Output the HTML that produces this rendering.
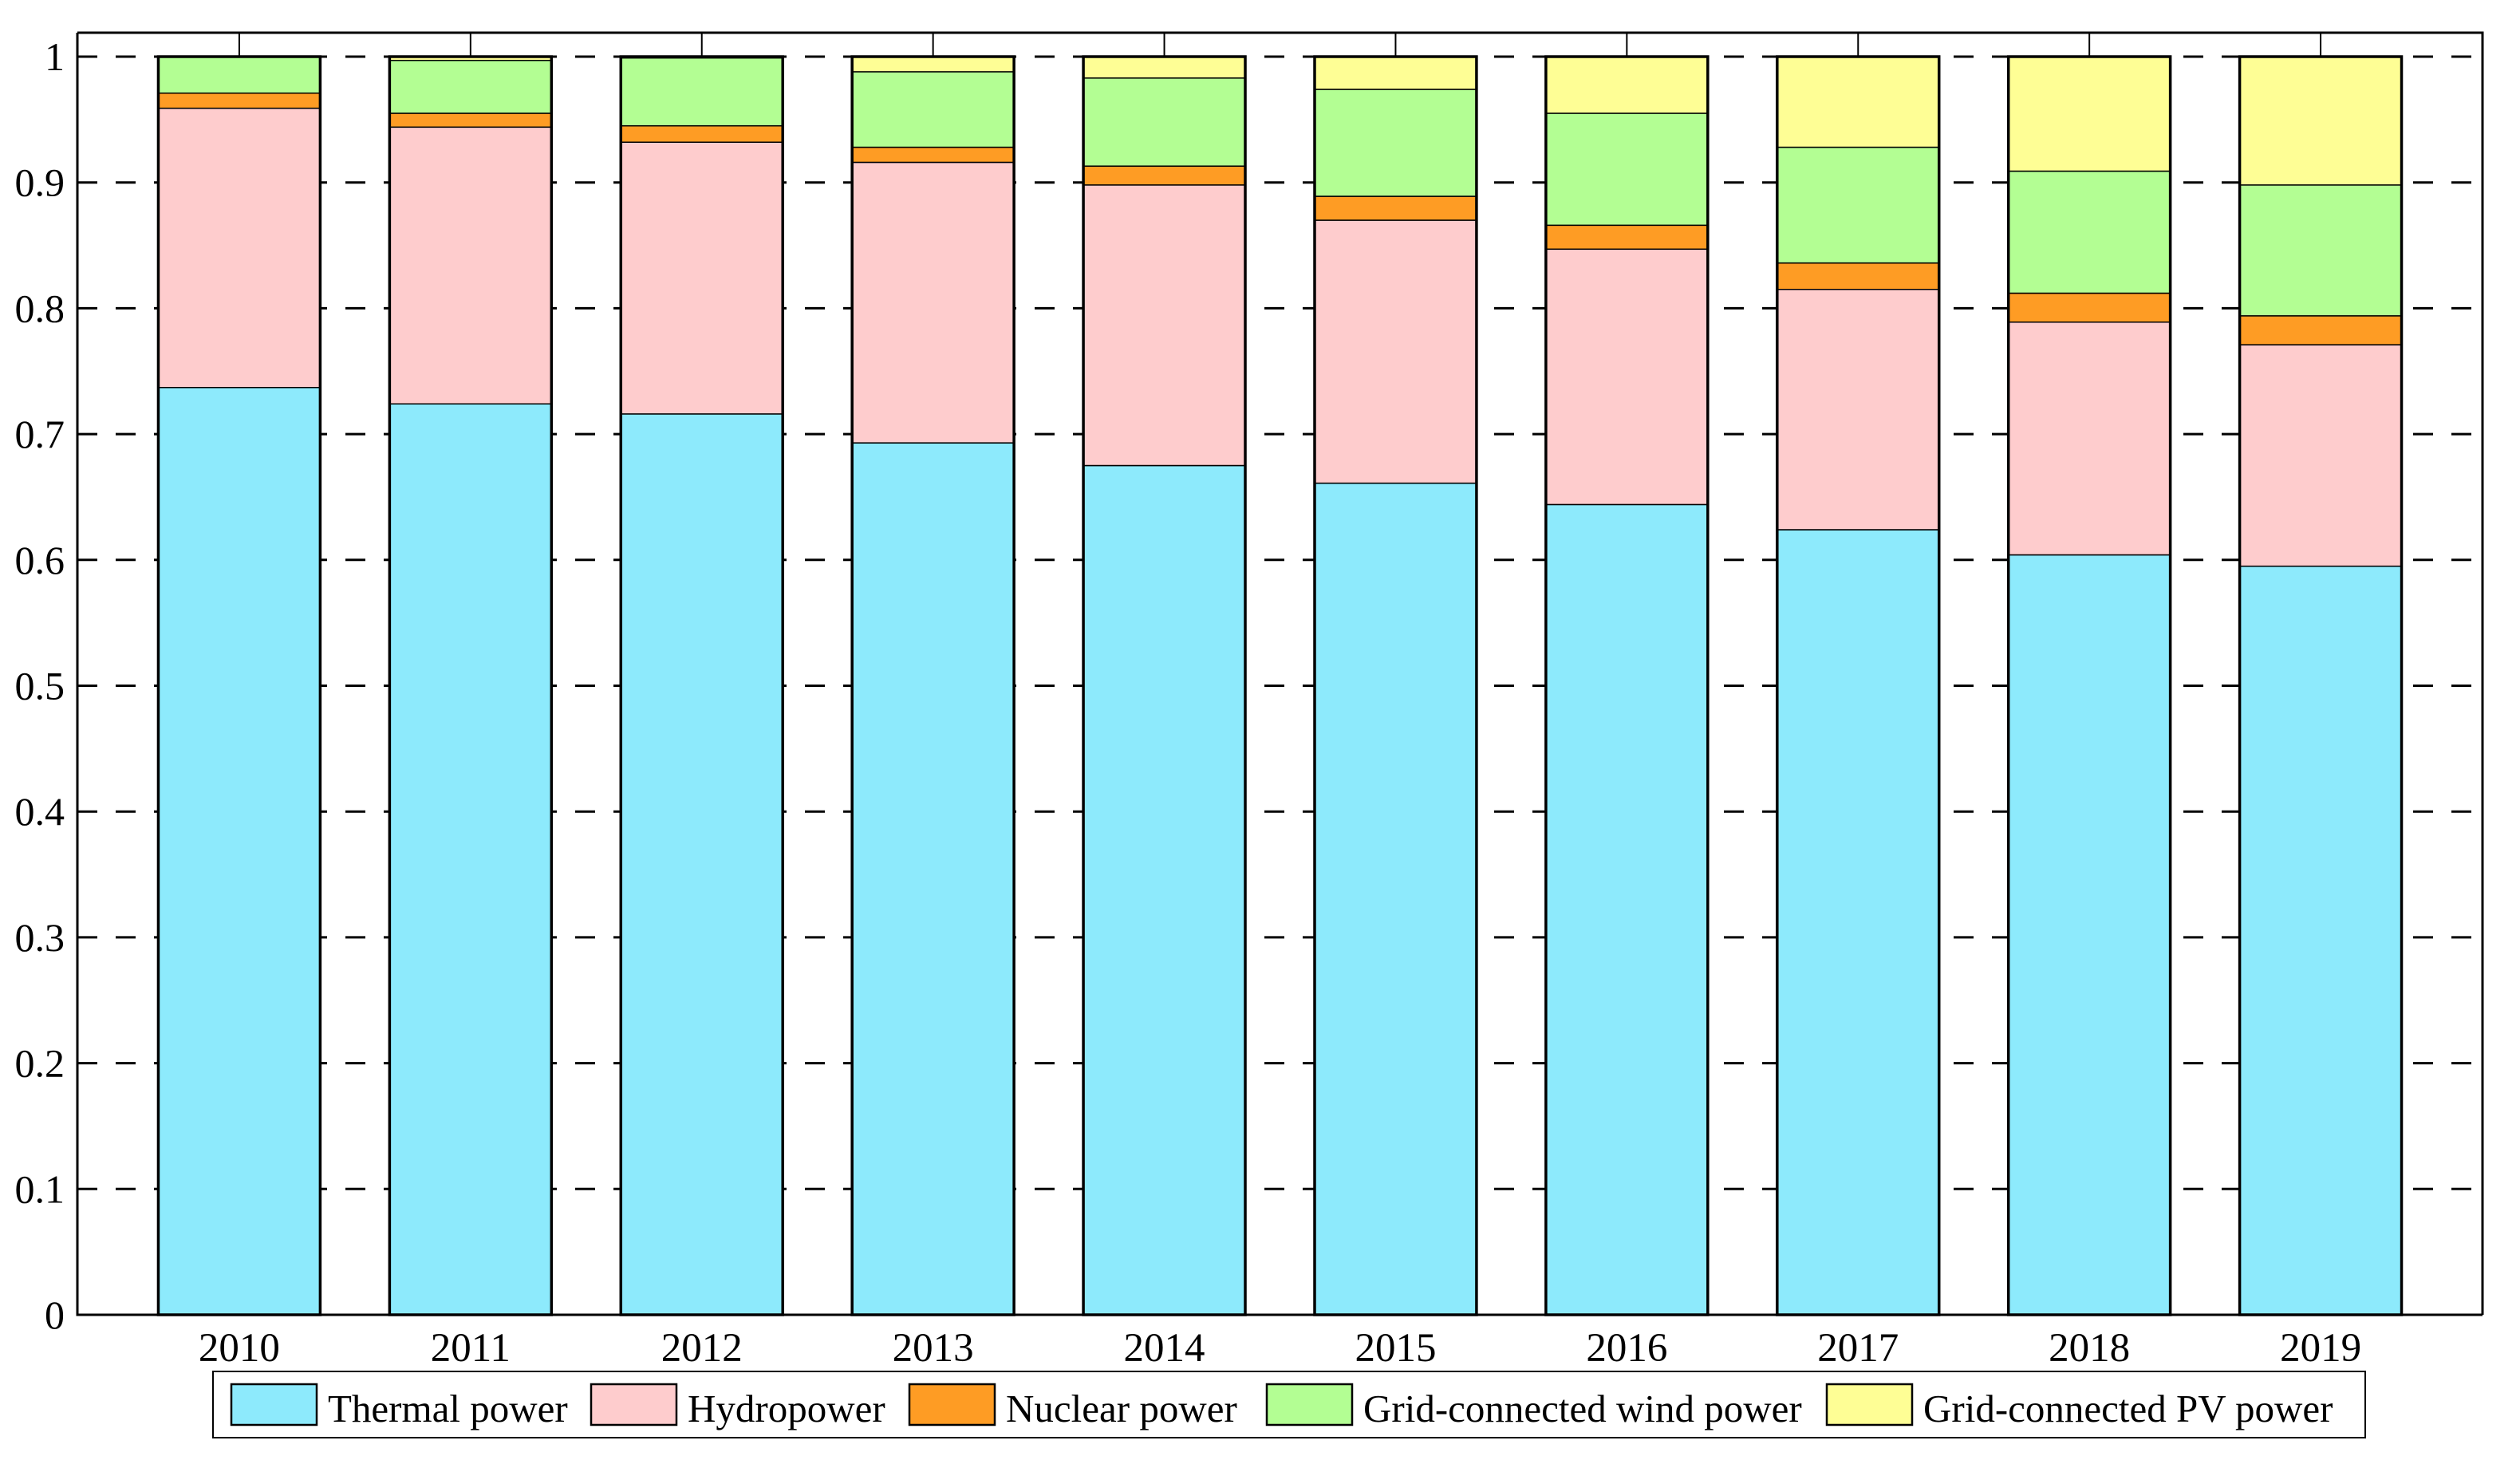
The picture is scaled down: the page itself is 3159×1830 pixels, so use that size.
<!DOCTYPE html>
<html><head><meta charset="utf-8"><style>
html,body{margin:0;padding:0;background:#fff;}
svg{display:block;font-family:"Liberation Serif",serif;}
</style></head><body>
<svg id="chart" width="3159" height="1830" viewBox="0 0 3159 1830" xmlns="http://www.w3.org/2000/svg"></svg>
<script>
const years = ["2010","2011","2012","2013","2014","2015","2016","2017","2018","2019"];
const thermal = [0.737,0.724,0.716,0.693,0.675,0.661,0.644,0.624,0.604,0.595];
const hydro   = [0.222,0.220,0.216,0.223,0.223,0.209,0.203,0.191,0.185,0.176];
const nuclear = [0.012,0.011,0.013,0.012,0.015,0.019,0.019,0.021,0.023,0.023];
const wind    = [0.029,0.042,0.054,0.060,0.070,0.085,0.089,0.092,0.097,0.104];
const pv      = [0.000,0.003,0.001,0.012,0.017,0.026,0.045,0.072,0.091,0.102];
const yTicks = ["0","0.1","0.2","0.3","0.4","0.5","0.6","0.7","0.8","0.9","1"];
const seriesNames = ["Thermal power","Hydropower","Nuclear power","Grid-connected wind power","Grid-connected PV power"];
const seriesData = [thermal,hydro,nuclear,wind,pv];
const colors = ["#8deafc","#fecccd","#fe9c24","#b3fe93","#fefe95"];

const NS="http://www.w3.org/2000/svg";
const svg=document.getElementById('chart');
const L=97,R=3112,T=41,Y0=1648,Y1=71;
const xmin=0.3,xmax=10.7,barW=0.7;
function xs(i){return L+(i+1-xmin)/(xmax-xmin)*(R-L);}
function ys(v){return Y0-v*(Y0-Y1);}
function el(tag,attrs,parent){const e=document.createElementNS(NS,tag);for(const k in attrs)e.setAttribute(k,attrs[k]);(parent||svg).appendChild(e);return e;}

yTicks.forEach((t,i)=>{
  const v=parseFloat(t);const y=ys(v);
  if(v>0){
    const g=el('line',{x1:L,x2:R,y1:y,y2:y,stroke:'#000','stroke-width':3,'stroke-dasharray':'25 23'});
    
    
  }
  const tx=el('text',{x:L-16,y:y+17,'text-anchor':'end','font-size':50,fill:'#000'});
  tx.textContent=t;
  
  
});

years.forEach((yr,i)=>{
  const cx=xs(i);const x0=cx-barW/2*(xs(1)-xs(0));const w=barW*(xs(1)-xs(0));
  let cum=0;
  seriesData.forEach((s,k)=>{
    const v=s[i];const yTop=ys(cum+v),yBot=ys(cum);
    const r=el('rect',{x:x0,y:yTop,width:w,height:Math.max(0,yBot-yTop),fill:colors[k],stroke:'#000','stroke-width':1.5});
    
    
    cum+=v;
  });
  const o=el('rect',{x:x0,y:ys(cum),width:w,height:ys(0)-ys(cum),fill:'none',stroke:'#000','stroke-width':3.5});
  
  
  const tk=el('line',{x1:cx,x2:cx,y1:T,y2:T+30,stroke:'#000','stroke-width':2});
  
  
  const lb=el('text',{x:cx,y:1706,'text-anchor':'middle','font-size':51,fill:'#000'});
  lb.textContent=yr;
  
  
});

const ax=el('path',{d:`M${L},${T} H${R} V${Y0} M${L},${T} V${Y0} H${R}`,fill:'none',stroke:'#000','stroke-width':3});



const lg=el('g',{});


el('rect',{x:267,y:1719,width:2698,height:83,fill:'#fff',stroke:'#000','stroke-width':2},lg);
const entryX=[290,741,1140,1588,2290];
seriesNames.forEach((n,k)=>{
  const g=el('g',{},lg);
  
  
  el('rect',{x:entryX[k],y:1735,width:107,height:51,fill:colors[k],stroke:'#000','stroke-width':2.5},g);
  const t=el('text',{x:entryX[k]+121,y:1782,'font-size':49,fill:'#000'},g);
  t.textContent=n;
});
</script>
</body></html>
